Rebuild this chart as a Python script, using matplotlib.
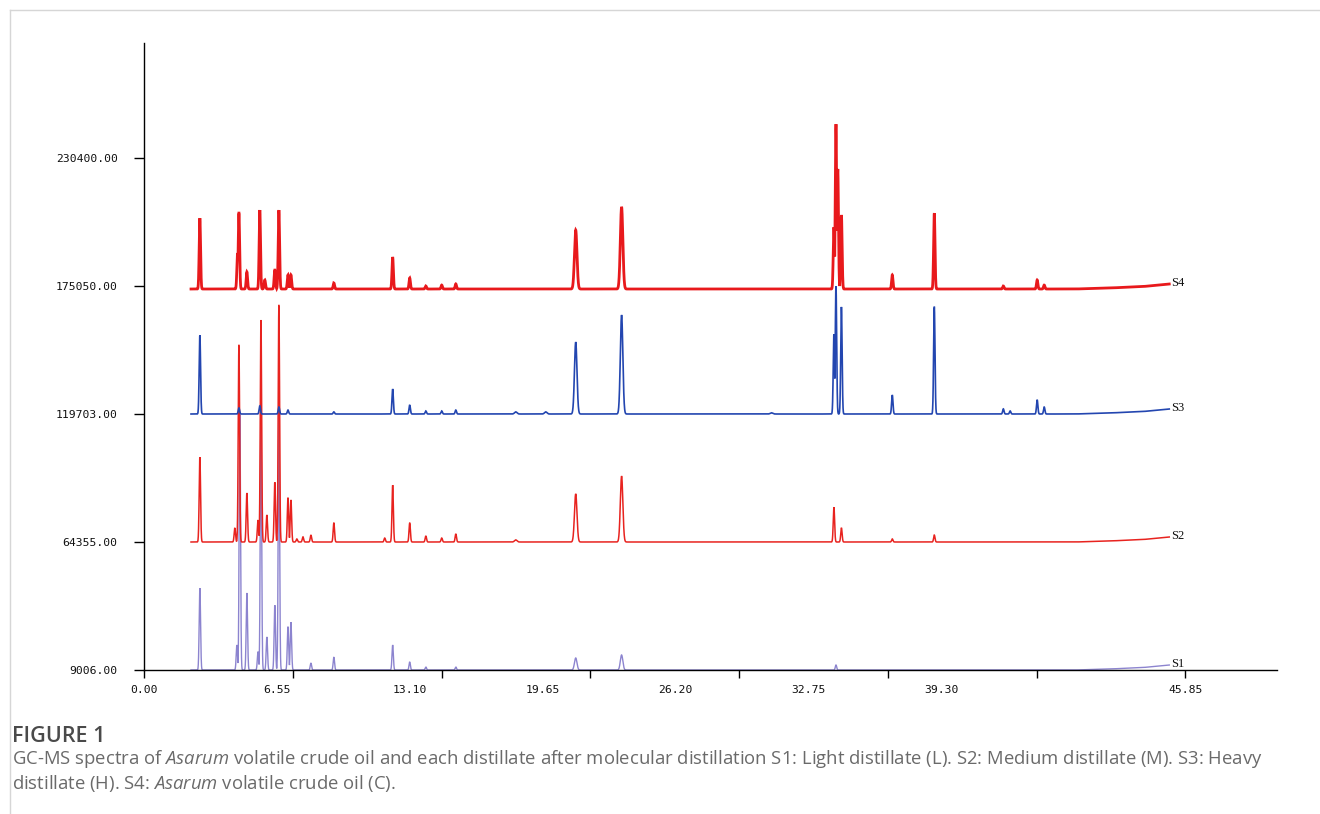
import numpy as np
import matplotlib
matplotlib.use("Agg")
import matplotlib.pyplot as plt
from matplotlib.lines import Line2D

plt.rcParams['mathtext.fontset'] = 'custom'
plt.rcParams['mathtext.it'] = 'Open Sans:italic'
plt.rcParams['mathtext.rm'] = 'Open Sans'

# ---------------- data ----------------
series_names = ["S1", "S2", "S3", "S4"]
baselines = [9006.0, 64355.0, 119703.0, 173750.0]
y_tick_values = [9006.0, 64355.0, 119703.0, 175050.0, 230400.0]
y_tick_labels = ["9006.00", "64355.00", "119703.00", "175050.00", "230400.00"]
x_tick_values = [0.00, 6.55, 13.10, 19.65, 26.20, 32.75, 39.30, 45.85]
x_tick_labels = ["0.00", "6.55", "13.10", "19.65", "26.20", "32.75", "39.30", "45.85"]

run_start, run_end = 2.07, 45.15

# peaks: retention time (min) and height (abundance above baseline)
s1_rt = [2.46, 4.09, 4.22, 4.53, 5.02, 5.15, 5.41, 5.76, 5.94, 6.34, 6.47,
         7.35, 8.36, 10.95, 11.70, 12.41, 13.73, 19.01, 21.03, 30.47]
s1_h = [35500, 10800, 110700, 33300, 7800, 110300, 14300, 28100, 110300, 18600, 20700,
        3000, 5600, 10800, 3500, 1300, 1300, 5200, 6500, 2200]

s2_rt = [2.46, 4.00, 4.18, 4.53, 5.02, 5.15, 5.41, 5.76, 5.94, 6.34, 6.47, 6.73,
         7.00, 7.35, 8.36, 10.60, 10.95, 11.70, 12.41, 13.11, 13.73, 16.37,
         19.01, 21.03, 30.38, 30.71, 32.95, 34.80]
s2_h = [36800, 6100, 85200, 21200, 9500, 96000, 11700, 25900, 102500, 19000, 18200, 1300,
        2200, 3000, 8200, 1700, 24600, 8200, 2600, 1700, 3500, 900,
        20800, 28500, 15100, 6100, 1300, 3000]

s3_rt = [2.46, 4.18, 5.10, 5.94, 6.34, 8.36, 10.95, 11.70, 12.41, 13.11, 13.73,
         16.37, 17.69, 19.01, 21.03, 27.63, 30.38, 30.47, 30.71, 32.95, 34.80,
         37.84, 38.14, 39.33, 39.64]
s3_h = [34200, 2600, 3500, 3000, 1700, 900, 10800, 3900, 1300, 1300, 1700,
        900, 900, 31100, 42800, 500, 34600, 55300, 46300, 8200, 46300,
        2200, 1300, 6100, 3000]

s4_rt = [2.46, 4.12, 4.18, 4.53, 5.10, 5.32, 5.76, 5.94, 6.34, 6.47, 8.36,
         10.95, 11.70, 12.41, 13.11, 13.73, 19.01, 21.03, 30.38, 30.47, 30.55,
         30.71, 32.95, 34.80, 37.84, 39.33, 39.64]
s4_h = [30700, 15500, 32900, 7400, 34200, 3900, 8200, 34200, 6100, 6100, 2600,
        13800, 4800, 1300, 1700, 2200, 25500, 35500, 26800, 71300, 51900,
        32000, 6100, 32900, 1300, 3900, 1700]

# late baseline drift at the end of each run
drift_t = [run_start, 41.0, 42.5, 44.0, run_end]
drift_v = [0, 0, 430, 1080, 2160]

colors = ["#8c84cf", "#e8231f", "#2346b0", "#e8191c"]
linewidths = [1.0, 1.1, 1.2, 2.0]

peaks = [(s1_rt, s1_h), (s2_rt, s2_h), (s3_rt, s3_h), (s4_rt, s4_h)]

# ---------------- figure ----------------
fig = plt.figure(figsize=(13.2, 8.14), dpi=100)
ax = fig.add_axes([144 / 1320, 1 - 670 / 814, (1277 - 144) / 1320, (670 - 43) / 814])

t = np.arange(run_start, run_end, 0.004)
drift = np.interp(t, drift_t, drift_v)
for name, base, (rts, hs), c, lw in zip(series_names, baselines, peaks, colors, linewidths):
    sig_all = np.zeros_like(t)
    for rt, h in zip(rts, hs):
        sig = 0.03 if (rt < 15 or rt > 30) else 0.055
        sig_all = np.maximum(sig_all, h * np.exp(-0.5 * ((t - rt) / sig) ** 2))
    y = base + drift + sig_all
    ax.plot(t, y, color=c, lw=lw, solid_joinstyle='miter')
    ax.annotate(name, xy=(t[-1], y[-1]), xytext=(1, 1), textcoords='offset points',
                ha='left', va='center', fontsize=9, family='Liberation Serif',
                color='#111111')

ax.set_xlim(0, 1134 / 22.73)
ax.set_ylim(9006.0, 9006.0 + 627 * 432.41)

for s in ['top', 'right']:
    ax.spines[s].set_visible(False)
for s in ['left', 'bottom']:
    ax.spines[s].set_linewidth(1.0)
    ax.spines[s].set_color('#000000')

ax.set_yticks(y_tick_values)
ax.set_yticklabels(y_tick_labels, family='DejaVu Sans Mono', fontsize=8.2, color='#111111')
ax.tick_params(axis='y', direction='out', length=7, width=1, pad=12)
ax.set_xticks(x_tick_values)
ax.set_xticklabels([])
ax.tick_params(axis='x', direction='out', length=6, width=1)

# x tick labels as drawn by the instrument software
label_scale = 133 / 148.9
for i, (v, lab) in enumerate(zip(x_tick_values, x_tick_labels)):
    xpos = v * label_scale if i < len(x_tick_values) - 1 else v
    ax.text(xpos, -20 / 627, lab, transform=ax.get_xaxis_transform(),
            ha='center', va='center', family='DejaVu Sans Mono', fontsize=8.2,
            color='#111111')

# page frame
fig.add_artist(Line2D([10 / 1320, 1], [1 - 10 / 814, 1 - 10 / 814], color='#d6d6d6', lw=1))
fig.add_artist(Line2D([10 / 1320, 10 / 1320], [0, 1 - 10 / 814], color='#d6d6d6', lw=1))

# caption
fig.text(12 / 1320, 1 - 737 / 814, "FIGURE 1", fontsize=15.5, family='Open Sans',
         weight='semibold', color='#4a4a4a', va='center', ha='left')
fig.text(12 / 1320, 1 - 759 / 814,
         r"GC-MS spectra of $\mathit{Asarum}$ volatile crude oil and each distillate after molecular "
         r"distillation S1: Light distillate (L). S2: Medium distillate (M). S3: Heavy",
         fontsize=13.3, family='Open Sans', color='#6a6a6a', va='center', ha='left')
fig.text(12 / 1320, 1 - 783 / 814,
         r"distillate (H). S4: $\mathit{Asarum}$ volatile crude oil (C).",
         fontsize=13.3, family='Open Sans', color='#6a6a6a', va='center', ha='left')

fig.savefig("out.png", dpi=100)
